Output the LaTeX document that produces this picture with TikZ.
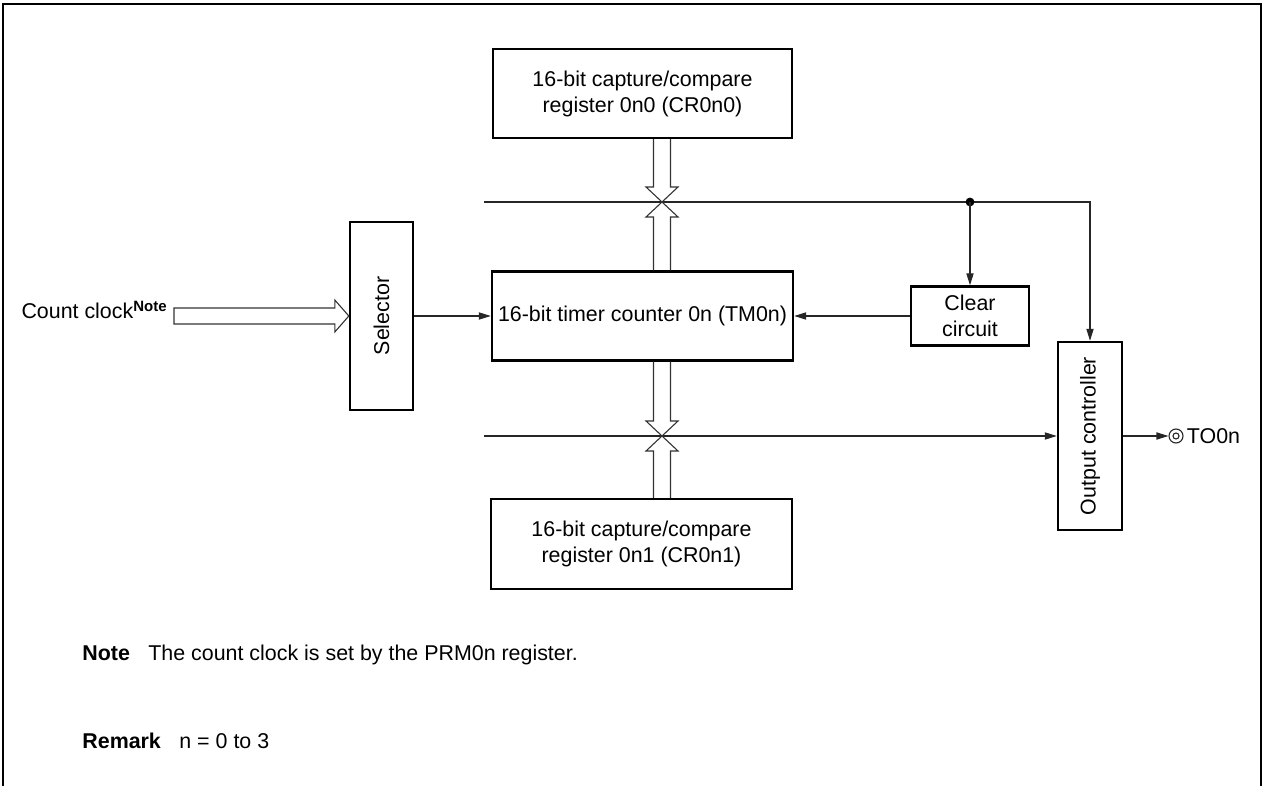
\documentclass[tikz,border=0pt]{standalone}
\usepackage{fontspec}
\setmainfont{Liberation Sans}
\usetikzlibrary{positioning,arrows.meta,calc}

% hollow bus arrow, vertical: #1 base, #2 tip, #3 = 1 (up) or -1 (down)
\newcommand\busv[3]{%
  \draw[bus] ($(#1)+(-8.5,0)$) -- ($(#2)+(-8.5,#3*15)$) -- ($(#2)+(-16,#3*15)$)
    -- (#2) -- ($(#2)+(16,#3*15)$) -- ($(#2)+(8.5,#3*15)$) -- ($(#1)+(8.5,0)$);}
% hollow bus arrow, horizontal to the right
\newcommand\bush[2]{%
  \draw[bus] ($(#1)+(0,-8)$) -- ($(#2)+(-14,-8)$) -- ($(#2)+(-14,-16)$)
    -- (#2) -- ($(#2)+(-14,16)$) -- ($(#2)+(-14,8)$) -- ($(#1)+(0,8)$) -- cycle;}

\begin{document}
\begin{tikzpicture}[x=0.5pt, y=-0.5pt,
  font=\fontsize{10.7}{13}\selectfont,
  box/.style={draw, line width=1.2pt, align=center, inner sep=0pt},
  wire/.style={line width=0.55pt, black!85},
  sig/.style={wire, -{Triangle[length=6pt,width=3.6pt]}},
  bus/.style={line width=0.55pt, black!80, line join=miter},
  frame/.style={line width=1.1pt},
  note/.style={anchor=base west, inner sep=0pt}
]
\useasboundingbox (0,0) rectangle (1264,786);
\draw[frame] (3,786) -- (3,4) -- (1261,4) -- (1261,786);

\node[box, minimum width=149.5pt, minimum height=44.5pt] (cr0) at (642.5,93.5) {16-bit capture/compare\\register 0n0 (CR0n0)};
\node[box, minimum width=150.5pt, minimum height=44.5pt] (tm)  at (642.5,316)  {16-bit timer counter 0n (TM0n)};
\node[box, minimum width=150.5pt, minimum height=45pt]   (cr1) at (641.5,544)  {16-bit capture/compare\\register 0n1 (CR0n1)};
\node[box, minimum width=31.5pt, minimum height=94pt]    (sel) at (381.5,316)  {\rotatebox{90}{Selector}};
\node[box, minimum width=59pt, minimum height=29.5pt]    (clr) at (970,316)    {Clear\\circuit};
\node[box, minimum width=32pt, minimum height=94pt]      (out) at (1090,436)   {\rotatebox{90}{Output controller}};

\coordinate (tl) at (484,202);
\coordinate (jn) at (970,202);
\coordinate (bl) at (484,436);
\coordinate (up) at (662,202);
\coordinate (dn) at (662,436);
\coordinate (ck) at (174,316);

\draw[sig] (tl) -| (out.north);
\fill (jn) circle (2.2pt);
\draw[sig] (jn) -- (clr.north);
\draw[sig] (bl) -- (out.west);
\draw[sig] (sel.east) -- (tm.west);
\draw[sig] (clr.west) -- (tm.east);

\busv{cr0.south -| up}{up}{-1}
\busv{tm.north -| up}{up}{1}
\busv{tm.south -| dn}{dn}{-1}
\busv{cr1.north -| dn}{dn}{1}
\bush{ck}{sel.west}

\node[anchor=base east, inner sep=0pt] (cklbl) at (168,319) {Count clock\textsuperscript{\bfseries Note}};

% output pin
\node[circle, draw, wire, minimum size=7pt, inner sep=0pt] (to) at (1176,436) {};
\draw[wire] (to) circle (1.5pt);
\draw[sig] (out.east) -- (to.west);
\node[right=1pt of to, inner sep=0.5pt] (tolbl) {TO0n};

\node[note] (nt)  at (82,660)  {\textbf{Note}};
\node[note] (ntx) at (148,660) {The count clock is set by the PRM0n register.};
\node[note] (rm)  at (82,748)  {\textbf{Remark}};
\node[note] (rmx) at (179,748) {n = 0 to 3};
\end{tikzpicture}
\end{document}
